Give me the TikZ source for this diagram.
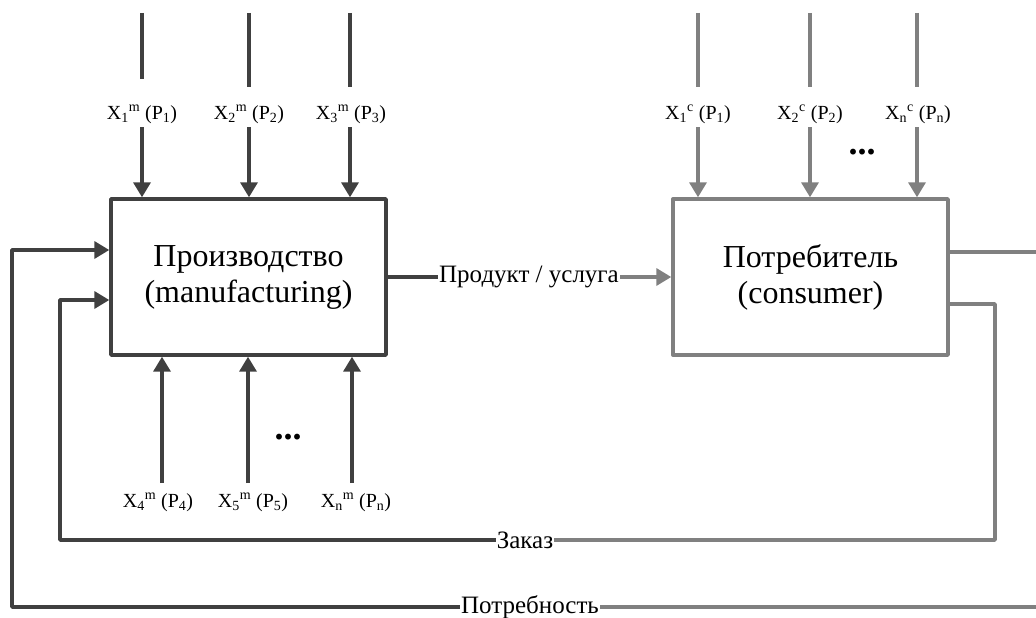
\documentclass[tikz,border=0pt]{standalone}
\usepackage{fontspec}
\setmainfont{Liberation Serif}
\usetikzlibrary{arrows.meta}
\definecolor{dk}{HTML}{404040}
\definecolor{gy}{HTML}{808080}
\begin{document}
\begin{tikzpicture}[x=1pt,y=-1pt,line join=round,
  dkline/.style={draw=dk,line width=3.4pt},
  gyline/.style={draw=gy,line width=3.4pt},
  tip/.style={-{Triangle[width=17pt,length=15pt]}},
  boxnode/.style={rectangle,draw,line width=3.4pt,minimum width=275pt,minimum height=156pt,align=center,font=\fontsize{32}{36}\selectfont,inner sep=0pt},
  xlab/.style={font=\fontsize{20}{22}\selectfont,text height=30pt,text depth=6pt,inner ysep=2pt,inner xsep=0pt},
  flowlab/.style={font=\fontsize{25}{27}\selectfont,inner xsep=1pt,inner ysep=2pt},
  dotsnode/.style={font=\fontsize{36}{38}\selectfont\bfseries,inner sep=0pt}
]
\useasboundingbox (0,0) rectangle (1036,618);

% boxes
\node[boxnode,draw=dk] (man) at (248.5,277) {Производство\\(manufacturing)};
\node[boxnode,draw=gy] (con) at (810.5,277) {Потребитель\\(consumer)};

% top inputs of production
\coordinate (t1) at (142,13);
\coordinate (t2) at (249,13);
\coordinate (t3) at (350,13);
\node[xlab] (l1) at (142,107) {X\textsubscript{1}\textsuperscript{m} (P\textsubscript{1})};
\node[xlab] (l2) at (249,107) {X\textsubscript{2}\textsuperscript{m} (P\textsubscript{2})};
\node[xlab] (l3) at (351,107) {X\textsubscript{3}\textsuperscript{m} (P\textsubscript{3})};
\draw[dkline,shorten >=8pt] (t1) -- (l1);
\draw[dkline] (t2) -- (l2);
\draw[dkline] (t3) -- (t3 |- l3.north);
\draw[dkline,tip] (l1) -- (l1 |- man.north);
\draw[dkline,tip] (l2) -- (l2 |- man.north);
\draw[dkline,tip] (t3 |- l3.south) -- (t3 |- man.north);

% bottom inputs of production
\node[xlab] (b1) at (158,495) {X\textsubscript{4}\textsuperscript{m} (P\textsubscript{4})};
\node[xlab] (b2) at (253,495) {X\textsubscript{5}\textsuperscript{m} (P\textsubscript{5})};
\node[xlab] (b3) at (356,495) {X\textsubscript{n}\textsuperscript{m} (P\textsubscript{n})};
\coordinate (a1) at (162,483);
\coordinate (a2) at (248,483);
\coordinate (a3) at (352,483);
\draw[dkline,tip] (a1) -- (a1 |- man.south);
\draw[dkline,tip] (a2) -- (a2 |- man.south);
\draw[dkline,tip] (a3) -- (a3 |- man.south);
\node[dotsnode] (d1) at (288,437) {...};

% top inputs of consumer
\coordinate (s1) at (698,13);
\coordinate (s2) at (810,13);
\coordinate (s3) at (917,13);
\node[xlab] (k1) at (698,107) {X\textsubscript{1}\textsuperscript{c} (P\textsubscript{1})};
\node[xlab] (k2) at (810,107) {X\textsubscript{2}\textsuperscript{c} (P\textsubscript{2})};
\node[xlab] (k3) at (918,107) {X\textsubscript{n}\textsuperscript{c} (P\textsubscript{n})};
\draw[gyline] (s1) -- (k1);
\draw[gyline] (s2) -- (k2);
\draw[gyline] (s3) -- (s3 |- k3.north);
\draw[gyline,tip] (k1) -- (k1 |- con.north);
\draw[gyline,tip] (k2) -- (k2 |- con.north);
\draw[gyline,tip] (s3 |- k3.south) -- (s3 |- con.north);
\node[dotsnode] (d2) at (862,152) {...};

% product flow
\node[flowlab] (prod) at (529,277) {Продукт / услуга};
\draw[dkline] (man.east) -- (prod.west);
\draw[gyline,tip] (prod.east) -- (con.west);

% order loop
\node[flowlab] (zak) at (525,540) {Заказ};
\coordinate (c3) at (995,304);
\coordinate (c2) at (60,300);
\draw[gyline] (con.east |- c3) -- (c3) |- (zak.east);
\draw[dkline,tip] (zak.west) -| (c2) -- (c2 -| man.west);

% need loop
\node[flowlab] (potr) at (530,607) {Потребность};
\coordinate (e1) at (1036,252);
\coordinate (e2) at (1036,607);
\coordinate (c1) at (12,250);
\draw[gyline] (con.east |- e1) -- (e1);
\draw[gyline] (e2) -- (potr.east);
\draw[dkline,tip] (potr.west) -| (c1) -- (c1 -| man.west);
\end{tikzpicture}
\end{document}
